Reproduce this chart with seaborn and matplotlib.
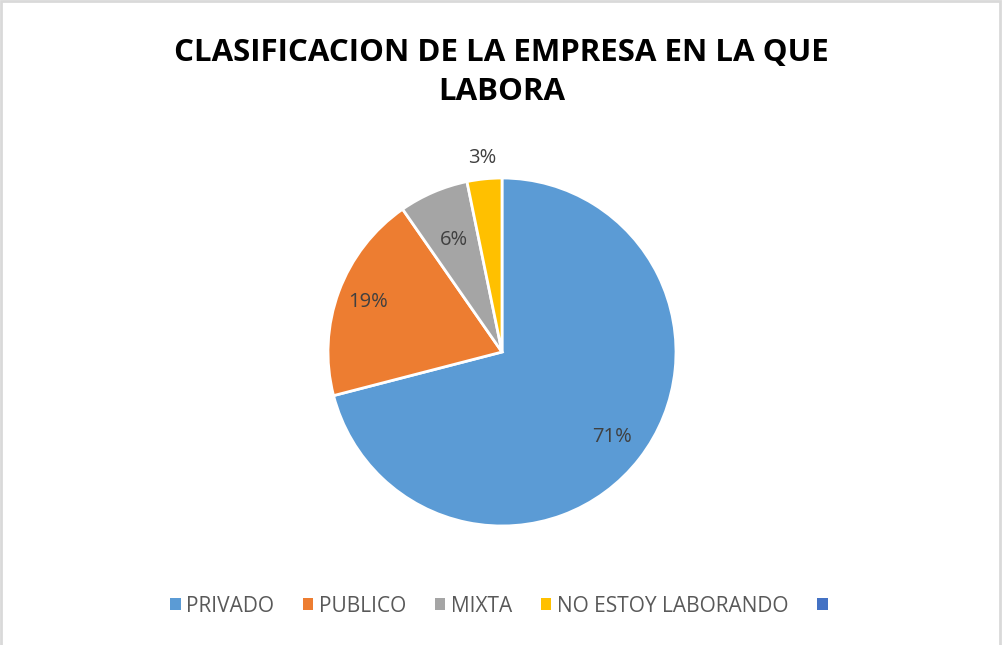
import numpy as np
import seaborn as sns
import matplotlib.pyplot as plt
from matplotlib.patches import Patch, Rectangle

# Data
categories = ['PRIVADO', 'PUBLICO', 'MIXTA', 'NO ESTOY LABORANDO', '']
counts = [22, 6, 2, 1, 0]
label_dist = [0.80, 0.82, 0.70, 1.12]
colors = ['#5B9BD5', '#ED7D31', '#A5A5A5', '#FFC000', '#4472C4']

sns.set_theme(style='white')
plt.rcParams['font.family'] = ['Open Sans', 'DejaVu Sans']

fig = plt.figure(figsize=(10.03, 6.45), dpi=100)
fig.patch.set_facecolor('white')

# Light gray frame around the chart
fig.patches.append(Rectangle((0.001, -0.01), 0.996, 1.008, transform=fig.transFigure,
                             fill=False, edgecolor='#D9D9D9', linewidth=2))

W, H = 1003, 645
cx, cy, r = 502, 352, 174
ax = fig.add_axes([(cx - r) / W, 1 - (cy + r) / H, 2 * r / W, 2 * r / H])

vals = counts[:4]
wedges, texts, autotexts = ax.pie(
    vals, colors=colors[:4], startangle=90, counterclock=False,
    autopct='%1.0f%%', pctdistance=0.8,
    wedgeprops=dict(edgecolor='white', linewidth=2),
    textprops=dict(color='#404040', fontsize=14.5))

for w, t, d in zip(wedges, autotexts, label_dist):
    mid = np.deg2rad((w.theta1 + w.theta2) / 2)
    t.set_position((d * np.cos(mid), d * np.sin(mid)))

ax.set_xlim(-1, 1)
ax.set_ylim(-1, 1)
ax.set_aspect('equal')
ax.axis('off')

fig.text(0.5, 0.887, 'CLASIFICACION DE LA EMPRESA EN LA QUE\nLABORA',
         ha='center', va='center', fontsize=22.5, fontweight='bold',
         color='black', linespacing=1.4)

handles = [Patch(facecolor=c, edgecolor='none') for c in colors]
leg = fig.legend(handles, categories, loc='center', bbox_to_anchor=(0.5, 0.06),
                 ncol=5, frameon=False, fontsize=15, handlelength=0.5,
                 handleheight=0.5, handletextpad=0.25, columnspacing=1.4)
for t in leg.get_texts():
    t.set_color('#595959')

fig.savefig('out.png', dpi=100, facecolor='white')
